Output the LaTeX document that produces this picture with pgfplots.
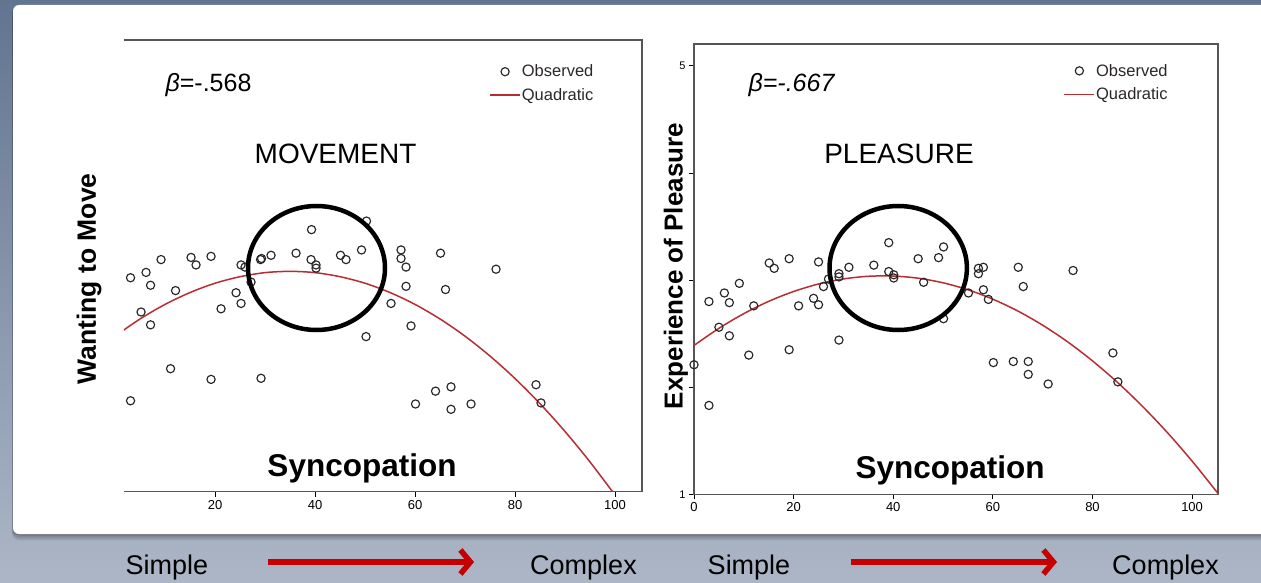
\documentclass[border=0pt]{standalone}
\usepackage{pgfplots}
\pgfplotsset{compat=1.18}
\usepackage{fontspec}
\setmainfont{Liberation Sans}
\usetikzlibrary{arrows.meta}
\definecolor{fitred}{RGB}{185,45,50}
\definecolor{bgtop}{RGB}{98,116,144}
\definecolor{bgbot}{RGB}{172,182,198}
\definecolor{framegray}{RGB}{85,85,85}
\definecolor{arrowred}{RGB}{196,0,0}
\definecolor{legtext}{RGB}{45,40,40}

\pgfplotsset{
  myaxis/.style={
    scale only axis, anchor=south west,
    tick align=outside, major tick length=5pt,
    tick style={black, line width=1pt},
    axis line style={framegray, line width=1.3pt},
    ticklabel style={font=\fontsize{13}{13}\selectfont},
    /pgf/number format/assume math mode=true,
    legend style={draw=none, fill=none, inner sep=0pt,
      font=\fontsize{16.5}{16.5}\selectfont, text=legtext,
      row sep=8pt, anchor=north west,
      nodes={inner sep=1pt}},
    legend cell align=left,
    legend image code/.code={\draw[mark repeat=2,mark phase=2,##1] plot coordinates {(0pt,0pt) (15pt,0pt) (30pt,0pt)};},
  },
  obs/.style={only marks, mark=o, mark size=4.1pt, mark options={black!85, line width=1.15pt}},
  fit/.style={no marks, smooth, fitred, line width=1.5pt},
}

\begin{document}
\begin{tikzpicture}[x=1pt,y=1pt]
\useasboundingbox (0,0) rectangle (1261,582);
\clip (0,0) rectangle (1261,582);
\shade[top color=bgtop, bottom color=bgbot] (0,0) rectangle (1261,582);
% panel shadow and panel
\fill[black, opacity=0.10, rounded corners=7pt] (12,42) rectangle (1280,576);
\fill[black, opacity=0.12, rounded corners=7pt] (12,44.5) rectangle (1280,576);
\fill[black, opacity=0.15, rounded corners=7pt] (12.5,46.5) rectangle (1280,577);
\fill[white, rounded corners=6pt] (13,48) rectangle (1280,577);

% ---------------- left plot: MOVEMENT ----------------
\begin{axis}[myaxis,
  at={(123.8pt,90.3pt)}, width=518.2pt, height=451.4pt,
  xmin=1.75, xmax=105.4, ymin=1, ymax=5.22,
  axis x line*=bottom, axis y line=none,
  xtick={20,40,60,80,100},
  legend style={at={(0.705,0.948)}},
]
\addplot[obs] coordinates {
(3.1,3.00)(6.2,3.05)(9.2,3.17)(15.2,3.19)(16.2,3.12)(19.2,3.20)(7.1,2.93)(12.1,2.88)
(5.2,2.68)(7.1,2.56)(11.1,2.15)(3.1,1.85)(19.2,2.05)(21.2,2.71)(24.2,2.86)(25.2,2.76)
(25.2,3.12)(26.0,3.10)(27.2,2.96)(29.1,3.17)(29.3,3.18)(31.2,3.21)(29.2,2.06)(36.2,3.23)
(39.2,3.17)(40.2,3.12)(40.2,3.09)(39.3,3.45)(45.1,3.21)(46.2,3.17)(49.3,3.26)(50.3,3.53)
(50.2,2.45)(55.2,2.76)(57.2,3.26)(57.2,3.18)(58.2,3.10)(58.2,2.92)(59.2,2.55)(65.1,3.23)
(66.1,2.89)(76.2,3.08)(60.1,1.82)(64.1,1.94)(67.2,1.98)(67.2,1.77)(71.2,1.82)(84.2,2.00)
(85.2,1.83)
};
\addlegendentry{Observed}
\addplot[fit] coordinates {
(0,2.454)(5,2.615)(10,2.751)(15,2.862)(20,2.949)(25,3.010)(30,3.048)(35,3.060)
(40,3.048)(45,3.010)(50,2.949)(55,2.862)(60,2.751)(65,2.615)(70,2.454)(75,2.268)
(80,2.058)(85,1.823)(90,1.563)(95,1.278)(100,0.969)
};
\addlegendentry{Quadratic}
\end{axis}
\draw[framegray, line width=1.3pt] (123.8,542) -- (642.0,542) -- (642.0,90.3);

% ---------------- right plot: PLEASURE ----------------
\begin{axis}[myaxis,
  at={(694pt,87.7pt)}, width=524pt, height=450.3pt,
  xmin=0, xmax=105.2, ymin=1, ymax=5.205,
  xtick={0,20,40,60,80,100}, ytick={1,2,3,4,5}, yticklabels={1,,,,5},
  xtick pos=bottom, ytick pos=left,
  yticklabel style={font=\fontsize{11}{11}\selectfont},
  legend style={at={(0.705,0.958)}},
]
\addplot[obs] coordinates {
(0,2.21)(3.0,2.80)(3.0,1.83)(5.0,2.56)(6.1,2.88)(7.1,2.79)(7.1,2.48)(9.1,2.97)
(11.0,2.30)(12.0,2.76)(15.1,3.16)(16.1,3.11)(19.1,3.20)(19.1,2.35)(21.0,2.76)(24.0,2.83)
(25.0,2.77)(25.0,3.17)(26.0,2.94)(27.0,3.01)(29.1,2.44)(29.1,3.06)(29.1,3.03)(31.1,3.12)
(36.1,3.14)(39.1,3.08)(40.1,3.05)(40.1,3.02)(39.1,3.35)(45.0,3.20)(46.1,2.98)(49.1,3.21)
(50.1,3.31)(50.1,2.64)(55.1,2.88)(57.1,3.11)(57.1,3.06)(58.1,3.12)(58.1,2.91)(59.1,2.82)
(60.1,2.23)(64.1,2.24)(65.1,3.12)(66.1,2.94)(67.1,2.24)(67.1,2.12)(71.1,2.03)(76.1,3.09)
(84.1,2.32)(85.1,2.05)
};
\addlegendentry{Observed}
\addplot[fit] coordinates {
(0,2.390)(5,2.550)(10,2.687)(15,2.802)(20,2.894)(25,2.964)(30,3.011)(35,3.036)
(40,3.038)(45,3.018)(50,2.975)(55,2.910)(60,2.822)(65,2.712)(70,2.579)(75,2.424)
(80,2.246)(85,2.046)(90,1.823)(95,1.578)(100,1.310)(105,1.020)(105.2,1.008)
};
\addlegendentry{Quadratic}
\end{axis}

% annotations
\draw[black, line width=4.5pt] (316.5,314) ellipse [x radius=68.5, y radius=62];
\draw[black, line width=4.5pt] (898.2,314) ellipse [x radius=68.7, y radius=62];

\node[anchor=base, font=\fontsize{25}{25}\selectfont] at (208.5,490.3) {\textit{β}=-.568};
\node[anchor=base, font=\fontsize{25}{25}\selectfont\itshape] at (791.5,490.3) {β=-.667};
\node[anchor=base, font=\fontsize{28}{28}\selectfont] at (335.6,418.7) {MOVEMENT};
\node[anchor=base, font=\fontsize{28}{28}\selectfont] at (899,418.7) {PLEASURE};
\node[anchor=base, font=\fontsize{31.5}{31.5}\selectfont\bfseries] at (362,105.3) {Syncopation};
\node[anchor=base, font=\fontsize{31.5}{31.5}\selectfont\bfseries] at (950,104) {Syncopation};
\node[rotate=90, font=\fontsize{26.5}{26.5}\selectfont\bfseries] at (89,303) {Wanting to Move};
\node[rotate=90, font=\fontsize{26}{26}\selectfont\bfseries] at (676,316) {Experience of Pleasure};

% bottom labels and arrows
\node[anchor=base, font=\fontsize{27}{27}\selectfont] at (167,7.5) {Simple};
\node[anchor=base, font=\fontsize{27}{27}\selectfont] at (583.5,7.5) {Complex};
\node[anchor=base, font=\fontsize{27}{27}\selectfont] at (749,7.5) {Simple};
\node[anchor=base, font=\fontsize{27}{27}\selectfont] at (1165.5,7.5) {Complex};
\draw[arrowred, line width=5.5pt, -{Straight Barb[length=10pt,width=24pt]}] (268,20) -- (474,20);
\draw[arrowred, line width=5.5pt, -{Straight Barb[length=10pt,width=24pt]}] (851,20) -- (1057,20);
\end{tikzpicture}
\end{document}
